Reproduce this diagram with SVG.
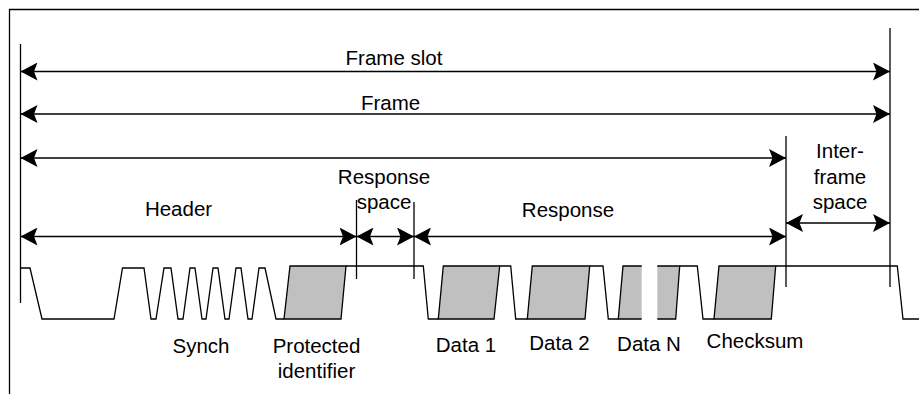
<svg xmlns="http://www.w3.org/2000/svg" width="919" height="394" viewBox="0 0 919 394">
<style>
  .ln { stroke: #000; stroke-width: 1.3; fill: none; }
  .dim { stroke: #000; stroke-width: 1.3; fill: none; marker-start: url(#ah); marker-end: url(#ah); }
  .box { fill: #c0c0c0; stroke: #000; stroke-width: 1.3; stroke-linejoin: miter; }
  .fill { fill: #c0c0c0; stroke: none; }
  text { font-family: "Liberation Sans", Arial, sans-serif; font-size: 20.5px; fill: #000; text-anchor: middle; }
</style>
<defs>
  <marker id="ah" viewBox="0 0 17 18" refX="17" refY="9" markerWidth="17" markerHeight="18" orient="auto-start-reverse" markerUnits="userSpaceOnUse">
    <path d="M0,0 L17,9 L0,18 L3.5,9 Z" fill="#000"/>
  </marker>
</defs>
<rect width="919" height="394" fill="#fff"/>
<path id="border" class="ln" d="M9.5,394 V9.5 H919"/>

<g id="extension-lines">
  <path class="ln" d="M20.5,44 V303"/>
  <path class="ln" d="M890,28 V287"/>
  <path class="ln" d="M786,136 V287"/>
  <path class="ln" d="M356.5,200 V279"/>
  <path class="ln" d="M414,202 V279"/>
</g>

<g id="connectors">
  <path class="dim" d="M20.5,71.5 H890"/>
  <path class="dim" d="M20.5,114 H890"/>
  <path class="dim" d="M20.5,158 H786"/>
  <path class="dim" d="M20.5,236.5 H356.5"/>
  <path class="dim" d="M356.5,236.5 H414"/>
  <path class="dim" d="M414,236.5 H786"/>
  <path class="dim" d="M786,223 H890"/>
</g>

<g id="waveform">
  <polyline class="ln" points="20.5,268 30,268 42,319 114,319 122.5,268 144,268 151,319 156,319 164,268 171,268 178,319 183,319 190,268 195,268 202,319 206,319 213,268 218,268 225,319 229,319 236,268 241,268 248,319 252,319 259,268 265,268 276,319 284,319"/>
  <polygon id="pid" class="box" points="284,319 290,266 346,266 341,319"/>
  <polyline class="ln" points="346,266 423.3,266 428.3,319 438.3,319"/>
  <polygon id="data1" class="box" points="438.3,319 443.3,266 499.7,266 494,319"/>
  <polyline class="ln" points="499.7,266 510.7,266 515.7,319 527.3,319"/>
  <polygon id="data2" class="box" points="527.3,319 532.3,266 589.7,266 585,319"/>
  <polyline class="ln" points="589.7,266 603,266 608.3,319 618.3,319"/>
  <g id="dataN">
    <polygon class="fill" points="618.3,319 623,266 641.7,266 641.7,319"/>
    <polyline class="ln" points="641.7,266 623,266 618.3,319 641.7,319"/>
    <polygon class="fill" points="657.3,266 679.7,266 675.7,319 657.3,319"/>
    <polyline class="ln" points="657.3,266 679.7,266 675.7,319 657.3,319"/>
  </g>
  <polyline class="ln" points="679.7,266 697.3,266 703,319 714,319"/>
  <polygon id="checksum" class="box" points="714,319 719,266 775.7,266 771.3,319"/>
  <polyline class="ln" points="775.7,266 897.3,266 903,319 919,319"/>
</g>

<g id="labels">
  <text x="394" y="65">Frame slot</text>
  <text x="390.5" y="109.5">Frame</text>
  <text x="178.5" y="216">Header</text>
  <text x="384" y="184">Response</text>
  <text x="384" y="209">space</text>
  <text x="568" y="217">Response</text>
  <text x="840" y="158">Inter-</text>
  <text x="840" y="183.5">frame</text>
  <text x="840" y="209">space</text>
  <text x="201" y="353">Synch</text>
  <text x="316.5" y="353">Protected</text>
  <text x="316.5" y="378">identifier</text>
  <text x="466" y="352">Data 1</text>
  <text x="559.5" y="350">Data 2</text>
  <text x="649" y="350.5">Data N</text>
  <text x="755" y="347.5">Checksum</text>
</g>
</svg>
